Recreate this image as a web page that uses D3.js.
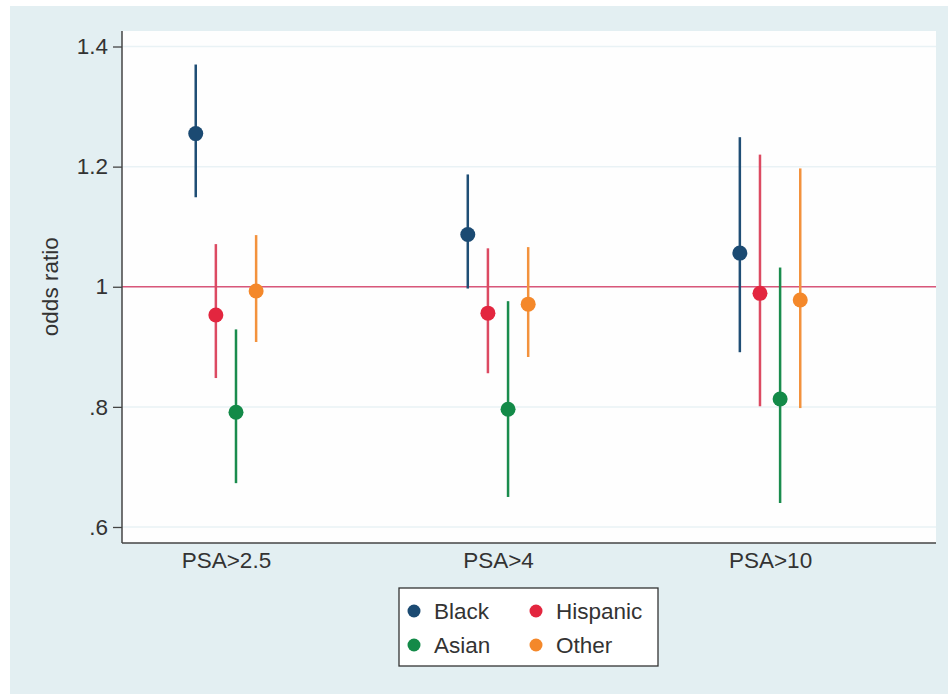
<!DOCTYPE html>
<meta charset="utf-8">
<style>
  body { margin: 0; background: #fff; }
  text { font-family: "Liberation Sans", Arial, sans-serif; fill: #333; }
</style>
<body>
<svg width="948" height="694"></svg>

<script src="https://cdn.jsdelivr.net/npm/d3@7"></script>
<script>

// chart data
var categories = ["PSA>2.5", "PSA>4", "PSA>10"];
var groups = ["Black", "Hispanic", "Asian", "Other"];
var colors = ["#1b4a72", "#e3263f", "#138a48", "#f4882a"];
var lineColors = ["#1f4e75", "#dc4a62", "#1a8c4d", "#f3923d"];

// odds ratio estimates, one entry per category
var oddsBlack    = [1.255, 1.087, 1.056];
var oddsHispanic = [0.953, 0.956, 0.989];
var oddsAsian    = [0.791, 0.796, 0.813];
var oddsOther    = [0.993, 0.971, 0.978];

var lowBlack    = [1.149, 0.997, 0.891];
var lowHispanic = [0.848, 0.856, 0.801];
var lowAsian    = [0.673, 0.650, 0.640];
var lowOther    = [0.908, 0.883, 0.798];

var highBlack    = [1.370, 1.187, 1.249];
var highHispanic = [1.071, 1.064, 1.220];
var highAsian    = [0.929, 0.976, 1.032];
var highOther    = [1.086, 1.066, 1.197];

var yTicks = [0.6, 0.8, 1.0, 1.2, 1.4];
var yTickLabels = [".6", ".8", "1", "1.2", "1.4"];

var odds = [oddsBlack, oddsHispanic, oddsAsian, oddsOther];
var lows = [lowBlack, lowHispanic, lowAsian, lowOther];
var highs = [highBlack, highHispanic, highAsian, highOther];

// flatten into rows
var data = [];
groups.forEach(function(g, gi) {
    categories.forEach(function(c, ci) {
	data.push({group: g, gi: gi, ci: ci, est: odds[gi][ci], lo: lows[gi][ci], hi: highs[gi][ci]});
    });
});

var svg = d3.select("svg");

// outer background
svg.append("rect")
    .attr("x", 10).attr("y", 6)
    .attr("width", 938).attr("height", 688)
    .attr("fill", "#e3eff2");

var plot = {left: 122, right: 936, top: 31, bottom: 543};

svg.append("rect")
    .attr("x", plot.left).attr("y", plot.top)
    .attr("width", plot.right - plot.left).attr("height", plot.bottom - plot.top)
    .attr("fill", "#fefefe");

var y = d3.scaleLinear().domain([0.6, 1.4]).range([527, 46.5]);
var x = d3.scaleLinear().domain([0.618, 3.61]).range([plot.left, plot.right]);
var offset = d3.scalePoint().domain(groups).range([-0.111, 0.111]);

// grid lines
svg.append("g")
    .selectAll("line")
    .data(yTicks)
    .join("line")
    .attr("x1", plot.left).attr("x2", plot.right)
    .attr("y1", function(d) { return y(d); })
    .attr("y2", function(d) { return y(d); })
    .attr("stroke", "#e9f2f5")
    .attr("stroke-width", 1.5);

// reference line at 1
svg.append("line")
    .attr("x1", plot.left).attr("x2", plot.right)
    .attr("y1", y(1)).attr("y2", y(1))
    .attr("stroke", "#d9577a")
    .attr("stroke-width", 1.3);

// Y axis
var yAxis = d3.axisLeft(y)
    .tickValues(yTicks)
    .tickFormat(function(d, i) { return yTickLabels[i]; })
    .tickSize(9)
    .tickPadding(5);

var yg = svg.append("g")
    .attr("transform", "translate(" + plot.left + ",0)")
    .call(yAxis);
yg.select(".domain").remove();
yg.selectAll("line").attr("stroke", "#444").attr("stroke-width", 1.3);
yg.selectAll("text").style("font-size", "22.5px").attr("fill", "#333");

svg.append("line")
    .attr("x1", plot.left).attr("x2", plot.left)
    .attr("y1", plot.top).attr("y2", plot.bottom)
    .attr("stroke", "#444").attr("stroke-width", 1.5);

// X axis
var xAxis = d3.axisBottom(x)
    .tickValues([1, 2, 3])
    .tickFormat(function(d) { return categories[d - 1]; })
    .tickSize(0)
    .tickPadding(9);

var xg = svg.append("g")
    .attr("transform", "translate(0," + plot.bottom + ")")
    .call(xAxis);
xg.select(".domain").remove();
xg.selectAll("text").style("font-size", "22.5px").attr("fill", "#333");

svg.append("line")
    .attr("x1", plot.left).attr("x2", plot.right)
    .attr("y1", plot.bottom).attr("y2", plot.bottom)
    .attr("stroke", "#444").attr("stroke-width", 1.5);

// axis title
svg.append("text")
    .attr("transform", "translate(58," + y(1) + ") rotate(-90)")
    .attr("text-anchor", "middle")
    .style("font-size", "22.5px")
    .text("odds ratio");

// error bars
function px(d) { return x(d.ci + 1 + offset(d.group)); }

svg.append("g")
    .selectAll("line")
    .data(data)
    .join("line")
    .attr("x1", px).attr("x2", px)
    .attr("y1", function(d) { return y(d.lo); })
    .attr("y2", function(d) { return y(d.hi); })
    .attr("stroke", function(d) { return lineColors[d.gi]; })
    .attr("stroke-width", 2.5);

// points
svg.append("g")
    .selectAll("circle")
    .data(data)
    .join("circle")
    .attr("cx", px)
    .attr("cy", function(d) { return y(d.est); })
    .attr("r", 7.5)
    .attr("fill", function(d) { return colors[d.gi]; });

// legend
var legend = svg.append("g");
legend.append("rect")
    .attr("x", 399).attr("y", 588)
    .attr("width", 259).attr("height", 78)
    .attr("fill", "#fff")
    .attr("stroke", "#333")
    .attr("stroke-width", 1.3);

var item = legend.selectAll("g")
    .data(groups)
    .join("g")
    .attr("transform", function(d, i) {
	return "translate(" + (414 + (i % 2) * 122) + "," + (611 + Math.floor(i / 2) * 34) + ")";
    });

item.append("circle")
    .attr("r", 6.5)
    .attr("fill", function(d, i) { return colors[i]; });

item.append("text")
    .attr("x", 20)
    .attr("dy", "0.35em")
    .style("font-size", "22.5px")
    .text(function(d) { return d; });

</script>
</body>
